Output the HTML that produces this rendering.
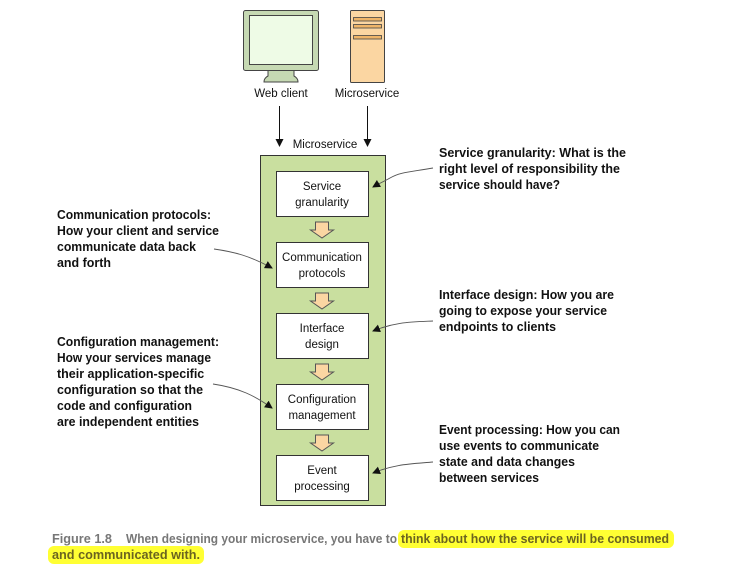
<!DOCTYPE html>
<html><head><meta charset="utf-8"><style>
html,body{margin:0;padding:0;background:#fff;}
svg{display:block;}
.b{font-family:"Liberation Sans",sans-serif;font-weight:bold;font-size:12.5px;fill:#111;}
.n{font-family:"Liberation Sans",sans-serif;font-size:11.5px;fill:#111;}
.c{font-family:"Liberation Sans",sans-serif;font-weight:bold;font-size:12.5px;}
</style></head><body>
<svg width="730" height="582" viewBox="0 0 730 582" xmlns="http://www.w3.org/2000/svg">
<defs>
<marker id="ah" markerWidth="8" markerHeight="8" refX="7" refY="4" orient="auto" markerUnits="userSpaceOnUse"><path d="M0,0 L8,4 L0,8 z" fill="#111"/></marker>
</defs>
<rect x="243.5" y="10.5" width="75" height="60" rx="2" fill="#c6d9b3" stroke="#444"/>
<rect x="249.5" y="15.5" width="63" height="49" fill="#eefbe6" stroke="#444"/>
<path d="M268,71 L268,76 Q264,78 264,82 L298,82 Q298,78 294,76 L294,71" fill="#c6d9b3" stroke="#444"/>
<rect x="350.5" y="10.5" width="34" height="72" rx="1" fill="#fbd6a2" stroke="#444"/>
<rect x="353.5" y="17.5" width="28" height="3.5" fill="#efb569" stroke="#444" stroke-width="0.8"/>
<rect x="353.5" y="24.5" width="28" height="3.5" fill="#efb569" stroke="#444" stroke-width="0.8"/>
<rect x="353.5" y="35.5" width="28" height="3.5" fill="#efb569" stroke="#444" stroke-width="0.8"/>
<text class="n" x="281" y="97" text-anchor="middle">Web client</text>
<text class="n" x="367" y="97" text-anchor="middle">Microservice</text>
<line x1="279.5" y1="106" x2="279.5" y2="146" stroke="#111" marker-end="url(#ah)"/>
<line x1="367.5" y1="106" x2="367.5" y2="146" stroke="#111" marker-end="url(#ah)"/>
<text class="n" x="325" y="148" text-anchor="middle">Microservice</text>
<rect x="260.5" y="155.5" width="125" height="350" fill="#c9df9f" stroke="#333"/>
<g fill="#fff" stroke="#333">
<rect x="276.5" y="171.5" width="92" height="45"/>
<rect x="276.5" y="242.5" width="92" height="45"/>
<rect x="276.5" y="313.5" width="92" height="45"/>
<rect x="276.5" y="384.5" width="92" height="45"/>
<rect x="276.5" y="455.5" width="92" height="45"/>
</g>
<g class="n" text-anchor="middle">
<text x="322" y="190">Service</text><text x="322" y="206">granularity</text>
<text x="322" y="261">Communication</text><text x="322" y="277">protocols</text>
<text x="322" y="332">Interface</text><text x="322" y="348">design</text>
<text x="322" y="403">Configuration</text><text x="322" y="419">management</text>
<text x="322" y="474">Event</text><text x="322" y="490">processing</text>
</g>
<g fill="#fbd6a2" stroke="#555">
<path d="M315.5,222 h13 v8 h5 l-11.5,8 l-11.5,-8 h5 z"/>
<path d="M315.5,293 h13 v8 h5 l-11.5,8 l-11.5,-8 h5 z"/>
<path d="M315.5,364 h13 v8 h5 l-11.5,8 l-11.5,-8 h5 z"/>
<path d="M315.5,435 h13 v8 h5 l-11.5,8 l-11.5,-8 h5 z"/>
</g>
<g fill="none" stroke="#555" stroke-width="0.9">
<path d="M433,168 C410,172 400,172 390,178 C383,182 378,184 373,187" marker-end="url(#ah)"/>
<path d="M214,249 C235,252 250,256 272,268" marker-end="url(#ah)"/>
<path d="M433,321 C410,322 395,322 373,331" marker-end="url(#ah)"/>
<path d="M213,384 C240,388 255,396 272,408" marker-end="url(#ah)"/>
<path d="M433,462 C410,464 395,464 373,473" marker-end="url(#ah)"/>
</g>
<g class="b">
<text x="439" y="157" textLength="187" lengthAdjust="spacingAndGlyphs">Service granularity: What is the</text>
<text x="439" y="173" textLength="181" lengthAdjust="spacingAndGlyphs">right level of responsibility the</text>
<text x="439" y="189" textLength="121" lengthAdjust="spacingAndGlyphs">service should have?</text>
<text x="439" y="299" textLength="175" lengthAdjust="spacingAndGlyphs">Interface design: How you are</text>
<text x="439" y="315" textLength="168" lengthAdjust="spacingAndGlyphs">going to expose your service</text>
<text x="439" y="331" textLength="117" lengthAdjust="spacingAndGlyphs">endpoints to clients</text>
<text x="439" y="434" textLength="181" lengthAdjust="spacingAndGlyphs">Event processing: How you can</text>
<text x="439" y="450" textLength="160" lengthAdjust="spacingAndGlyphs">use events to communicate</text>
<text x="439" y="466" textLength="136" lengthAdjust="spacingAndGlyphs">state and data changes</text>
<text x="439" y="482" textLength="100" lengthAdjust="spacingAndGlyphs">between services</text>
<text x="57" y="219" textLength="154" lengthAdjust="spacingAndGlyphs">Communication protocols:</text>
<text x="57" y="235" textLength="162" lengthAdjust="spacingAndGlyphs">How your client and service</text>
<text x="57" y="251" textLength="139" lengthAdjust="spacingAndGlyphs">communicate data back</text>
<text x="57" y="267" textLength="54" lengthAdjust="spacingAndGlyphs">and forth</text>
<text x="57" y="346" textLength="162" lengthAdjust="spacingAndGlyphs">Configuration management:</text>
<text x="57" y="362" textLength="154" lengthAdjust="spacingAndGlyphs">How your services manage</text>
<text x="57" y="378">their application-specific</text>
<text x="57" y="394" textLength="146" lengthAdjust="spacingAndGlyphs">configuration so that the</text>
<text x="57" y="410" textLength="135" lengthAdjust="spacingAndGlyphs">code and configuration</text>
<text x="57" y="426" textLength="142" lengthAdjust="spacingAndGlyphs">are independent entities</text>
</g>
<rect x="398" y="530" width="276" height="18" rx="6" fill="#ffff33"/>
<rect x="48" y="546" width="156" height="18" rx="6" fill="#ffff33"/>
<text class="c" x="52" y="543" fill="#777" textLength="60" lengthAdjust="spacingAndGlyphs">Figure 1.8</text>
<text class="c" x="126" y="543" fill="#777" textLength="271" lengthAdjust="spacingAndGlyphs">When designing your microservice, you have to</text>
<text class="c" x="401" y="543" fill="#6b6420" textLength="268" lengthAdjust="spacingAndGlyphs">think about how the service will be consumed</text>
<text class="c" x="52" y="559" fill="#6b6420" textLength="148" lengthAdjust="spacingAndGlyphs">and communicated with.</text>
</svg>
</body></html>
